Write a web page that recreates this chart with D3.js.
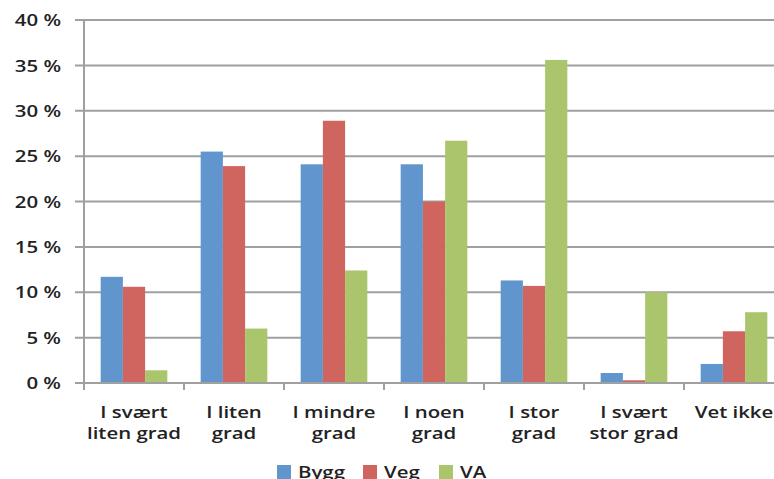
<!DOCTYPE html>
<html>
<head>
<meta charset="utf-8">
<script src="https://cdn.jsdelivr.net/npm/d3@7"></script>
<style>
  body { margin: 0; background: #fff; }
  svg { display: block; font-family: "Open Sans", sans-serif; }
  text { font-weight: 600; }
</style>
</head>
<body>
<div id="chart"></div>
<script>
const categories = [
    ["I svært", "liten grad"],
    ["I liten", "grad"],
    ["I mindre", "grad"],
    ["I noen", "grad"],
    ["I stor", "grad"],
    ["I svært", "stor grad"],
    ["Vet ikke"]
];
const seriesNames = ["Bygg", "Veg", "VA"];
const bygg = [11.7, 25.5, 24.1, 24.1, 11.3, 1.1, 2.1];
const veg = [10.6, 23.9, 28.9, 20.0, 10.7, 0.3, 5.7];
const va = [1.4, 6.0, 12.4, 26.7, 35.6, 10.0, 7.8];
const yTicks = [0, 5, 10, 15, 20, 25, 30, 35, 40];
const colors = ["#6096cd", "#d0645e", "#abc56c"];

const W = 774, H = 479;
const margin = { top: 20, left: 84 };
const plotW = 700;
const plotBottom = 383;
const stretch = 1.2; // the text in the source image is stretched sideways

const svg = d3.select("#chart").append("svg")
    .attr("width", W)
    .attr("height", H);

const x = d3.scaleBand()
    .domain(d3.range(categories.length))
    .range([margin.left, margin.left + plotW]);

// Excel style gap width 150%
const xSub = d3.scaleBand()
    .domain(d3.range(seriesNames.length))
    .range([0, x.bandwidth()])
    .paddingOuter(0.75);

const y = d3.scaleLinear().domain([0, 40]).range([plotBottom, margin.top]);

// gridlines
svg.append("g")
    .selectAll("line")
    .data(yTicks)
    .join("line")
    .attr("x1", margin.left - 9)
    .attr("x2", margin.left + plotW)
    .attr("y1", d => y(d))
    .attr("y2", d => y(d))
    .attr("stroke", "#a0a0a0")
    .attr("stroke-width", 2);

// y labels
svg.append("g")
    .selectAll("text")
    .data(yTicks)
    .join("text")
    .attr("transform", d => `translate(61,${y(d)}) scale(${stretch},1)`)
    .attr("dy", "0.36em")
    .attr("text-anchor", "end")
    .attr("fill", "#222")
    .style("font-size", "17px")
    .text(d => d + " %");

// bars
const data = [bygg, veg, va];
const groups = svg.append("g")
    .selectAll("g")
    .data(data)
    .join("g")
    .attr("fill", (d, i) => colors[i]);

groups.each(function (vals, si) {
    d3.select(this).selectAll("rect")
        .data(vals)
        .join("rect")
        .attr("x", (d, ci) => x(ci) + xSub(si))
        .attr("width", xSub.bandwidth())
        .attr("y", d => y(d))
        .attr("height", d => plotBottom - y(d));
});

// y axis line
svg.append("line")
    .attr("x1", margin.left).attr("x2", margin.left)
    .attr("y1", y(40)).attr("y2", plotBottom + 7)
    .attr("stroke", "#a0a0a0").attr("stroke-width", 2);

// x axis line + ticks
svg.append("line")
    .attr("x1", margin.left - 9).attr("x2", margin.left + plotW)
    .attr("y1", plotBottom).attr("y2", plotBottom)
    .attr("stroke", "#a0a0a0").attr("stroke-width", 2);

svg.append("g")
    .selectAll("line")
    .data(d3.range(categories.length + 1))
    .join("line")
    .attr("x1", d => margin.left + d * x.bandwidth())
    .attr("x2", d => margin.left + d * x.bandwidth())
    .attr("y1", plotBottom)
    .attr("y2", plotBottom + 7)
    .attr("stroke", "#a0a0a0").attr("stroke-width", 2);

// category labels
const catLabels = svg.append("g")
    .selectAll("text")
    .data(categories)
    .join("text")
    .attr("text-anchor", "middle")
    .attr("fill", "#222")
    .style("font-size", "17px")
    .attr("transform", (d, i) => `translate(${x(i) + x.bandwidth() / 2},0) scale(${stretch},1)`);

catLabels.selectAll("tspan")
    .data(d => d)
    .join("tspan")
    .attr("x", 0)
    .attr("y", (d, i) => 418 + i * 21)
    .text(d => d);

// legend
const legendX = [277, 363, 439];
const legend = svg.append("g")
    .selectAll("g")
    .data(seriesNames)
    .join("g")
    .attr("transform", (d, i) => `translate(${legendX[i]},465)`);

legend.append("rect")
    .attr("width", 14)
    .attr("height", 14)
    .attr("fill", (d, i) => colors[i]);

legend.append("text")
    .attr("transform", `translate(21,13) scale(${stretch},1)`)
    .attr("fill", "#222")
    .style("font-size", "17px")
    .text(d => d);
</script>
</body>
</html>
